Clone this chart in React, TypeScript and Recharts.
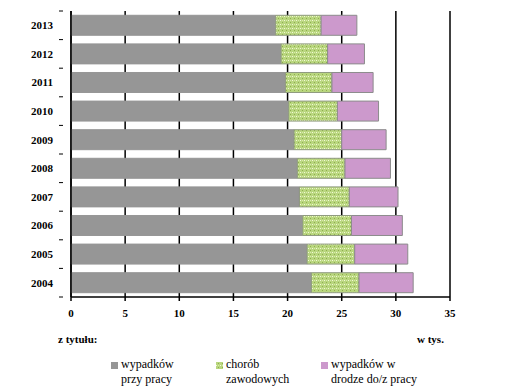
import { BarChart, Bar, XAxis, YAxis, CartesianGrid } from "recharts";

const years = ["2013", "2012", "2011", "2010", "2009", "2008", "2007", "2006", "2005", "2004"];
const wypadkiPrzyPracy = [18.9, 19.4, 19.8, 20.1, 20.6, 20.9, 21.1, 21.4, 21.8, 22.2];
const chorobyZawodowe = [4.2, 4.3, 4.3, 4.5, 4.4, 4.4, 4.6, 4.5, 4.4, 4.4];
const wypadkiWDrodze = [3.3, 3.4, 3.8, 3.8, 4.1, 4.2, 4.5, 4.7, 4.9, 5.0];
const xTicks = [0, 5, 10, 15, 20, 25, 30, 35];

const data = years.map((y, i) => ({
  year: y,
  wypadki: wypadkiPrzyPracy[i],
  choroby: chorobyZawodowe[i],
  droga: wypadkiWDrodze[i],
}));

const serif = "Liberation Serif, Times New Roman, serif";
const PLOT_TOP = 11;
const PLOT_BOTTOM = 297;
const BAND = (PLOT_BOTTOM - PLOT_TOP) / years.length;

function YearTick(props: any) {
  const { x, y, payload, index } = props;
  const top = y - BAND / 2;
  return (
    <g>
      <line x1={x - 4} x2={x} y1={top} y2={top} stroke="#000" />
      {index === years.length - 1 && (
        <line x1={x - 4} x2={x} y1={top + BAND} y2={top + BAND} stroke="#000" />
      )}
      <text
        x={x - 10}
        y={y}
        dy="0.35em"
        textAnchor="end"
        fontFamily={serif}
        fontWeight="bold"
        fontSize={11}
        fill="#000"
      >
        {payload.value}
      </text>
    </g>
  );
}

const legendItems = [
  { fill: "#969696", lines: ["wypadków", "przy pracy"], left: 111 },
  { fill: "url(#dots)", lines: ["chorób", "zawodowych"], left: 216 },
  { fill: "#cc99cc", lines: ["wypadków w", "drodze do/z pracy"], left: 321 },
];

export default function App() {
  return (
    <div
      style={{
        position: "absolute",
        left: 0,
        top: 0,
        width: 511,
        height: 386,
        background: "#fff",
        fontFamily: serif,
        overflow: "hidden",
      }}
    >
      <svg width={0} height={0} style={{ position: "absolute" }}>
        <defs>
          <pattern id="dots" width={4} height={4} patternUnits="userSpaceOnUse">
            <rect width={4} height={4} fill="#b9d67f" />
            <rect x={0} y={0} width={1} height={1} fill="#f2f9d6" />
            <rect x={2} y={2} width={1} height={1} fill="#8fae4e" />
            <rect x={2} y={0} width={1} height={1} fill="#d8ebab" />
          </pattern>
        </defs>
      </svg>
      <BarChart
        width={511}
        height={327}
        data={data}
        layout="vertical"
        barCategoryGap="15%"
        margin={{ top: PLOT_TOP, right: 61, bottom: 0, left: 0 }}
      >
        <CartesianGrid horizontal={false} vertical stroke="#000" strokeWidth={1.5} />
        <XAxis
          type="number"
          domain={[0, 35]}
          ticks={xTicks}
          interval={0}
          height={30}
          stroke="#000"
          strokeWidth={1.5}
          tickSize={4}
          tickMargin={8}
          tick={{ fontFamily: serif, fontWeight: "bold", fontSize: 11, fill: "#000" }}
        />
        <YAxis
          type="category"
          dataKey="year"
          width={71}
          stroke="#000"
          strokeWidth={1.5}
          tickLine={false}
          tick={<YearTick />}
          interval={0}
        />
        <Bar dataKey="wypadki" stackId="a" fill="#969696" stroke="#969696" isAnimationActive={false} />
        <Bar dataKey="choroby" stackId="a" fill="url(#dots)" stroke="#8f9a80" isAnimationActive={false} />
        <Bar dataKey="droga" stackId="a" fill="#cc99cc" stroke="#8c8c8c" isAnimationActive={false} />
      </BarChart>
      <div
        style={{
          position: "absolute",
          left: 58,
          top: 333,
          fontSize: 11,
          fontWeight: "bold",
        }}
      >
        z tytułu:
      </div>
      <div
        style={{
          position: "absolute",
          left: 417,
          top: 333,
          fontSize: 11,
          fontWeight: "bold",
        }}
      >
        w tys.
      </div>
      {legendItems.map((item) => (
        <div
          key={item.left}
          style={{ position: "absolute", left: item.left, top: 357, display: "flex" }}
        >
          <svg width={10} height={16} style={{ flex: "none" }}>
            <rect x={0} y={5} width={7} height={7} fill={item.fill} />
          </svg>
          <div style={{ fontSize: 12, lineHeight: "15px", color: "#000" }}>
            {item.lines[0]}
            <br />
            {item.lines[1]}
          </div>
        </div>
      ))}
    </div>
  );
}
